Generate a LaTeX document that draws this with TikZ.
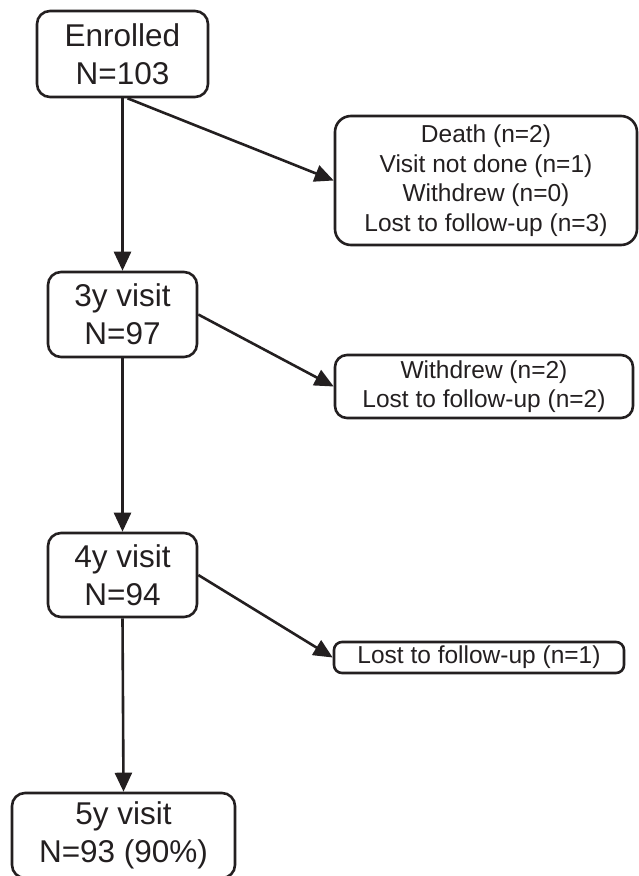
\documentclass[tikz,border=0pt]{standalone}
\usepackage{fontspec}
\setmainfont{Liberation Sans}
\usepackage{tikz}
\usetikzlibrary{arrows.meta}
\definecolor{inkgray}{RGB}{35,31,32}
\tikzset{every picture/.style={line width=2.6pt}}
\tikzset{
  bigbox/.style={draw=inkgray, text=inkgray, rounded corners=13pt, align=center, inner sep=0pt,
    font=\fontsize{31.5}{38}\selectfont},
  smallbox/.style={draw=inkgray, text=inkgray, rounded corners=12pt, align=center, inner sep=0pt,
    font=\fontsize{24.5}{29.5}\selectfont},
  flowarrow/.style={draw=inkgray, -{Triangle[length=19pt,width=17pt]}}
}

\begin{document}
\begin{tikzpicture}[x=1pt,y=1pt,yscale=-1,xscale=1]
%set diagram left start at 0, and has height of 876
\useasboundingbox (0,0) rectangle (638,876);

% Rounded Rect
\draw (122.5,54) node [bigbox, minimum width=171pt, minimum height=86pt] (enrolled) {Enrolled\\N=103};
% Rounded Rect
\draw (486,180.5) node [smallbox, rounded corners=16pt, minimum width=302pt, minimum height=129pt] (death) {Death (n=2)\\Visit not done (n=1)\\Withdrew (n=0)\\Lost to follow-up (n=3)};
% Rounded Rect
\draw (122.5,314.5) node [bigbox, minimum width=149pt, minimum height=85pt] (visitthree) {3y visit\\N=97};
% Rounded Rect
\draw (484,386.5) node [smallbox, minimum width=298pt, minimum height=63pt] (withdrew) {Withdrew (n=2)\\Lost to follow-up (n=2)};
% Rounded Rect
\draw (122.5,575) node [bigbox, minimum width=149pt, minimum height=84pt] (visitfour) {4y visit\\N=94};
% Rounded Rect
\draw (479,657.5) node [smallbox, rounded corners=8pt, minimum width=290pt, minimum height=31pt] (lost) {Lost to follow-up (n=1)};
% Rounded Rect
\draw (123.5,835.5) node [bigbox, minimum width=223pt, minimum height=85pt] (visitfive) {5y visit\\N=93 (90\%)};

% Straight Lines
\draw [flowarrow] (enrolled.south) -- (visitthree.north);
\draw [flowarrow] ([xshift=5pt]enrolled.south) -- (death.west);
\draw [flowarrow] (visitthree.south) -- (visitfour.north);
\draw [flowarrow] (visitthree.east) -- (withdrew.west);
\draw [flowarrow] (visitfour.south) -- (visitfive.north);
\draw [flowarrow] (visitfour.east) -- (lost.west);

\end{tikzpicture}
\end{document}
